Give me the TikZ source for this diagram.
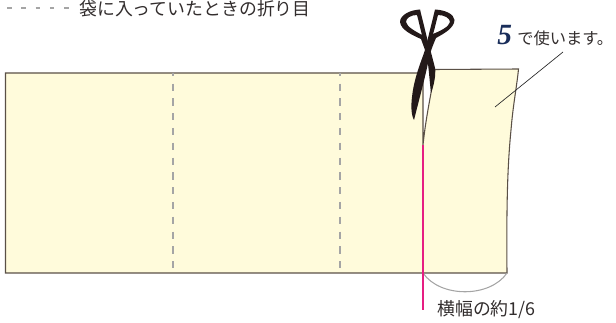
\documentclass[tikz,border=0pt]{standalone}
\usepackage{fontspec}
\setmainfont{Liberation Sans}
\newfontfamily\cjk{Noto Sans CJK JP}
\newfontfamily\numfont{Liberation Serif}
\definecolor{paper}{RGB}{255,251,219}
\definecolor{edge}{RGB}{90,80,70}
\definecolor{foldc}{RGB}{165,165,165}
\definecolor{cutc}{RGB}{230,30,130}
\definecolor{txt}{RGB}{50,45,45}
\definecolor{navy}{RGB}{25,45,90}
\definecolor{bladec}{RGB}{35,25,25}
\tikzset{
 sheet/.style={fill=paper,draw=edge,line width=0.8pt},
 foldline/.style={draw=foldc,line width=0.8pt,dash pattern=on 5.5pt off 5.6pt,dash phase=3.2pt},
 keyline/.style={draw=foldc,line width=0.8pt,dash pattern=on 3.5pt off 7.2pt},
 lbl/.style={inner sep=0pt,text=txt,anchor=west,font=\cjk\fontsize{13.4pt}{15pt}\selectfont},
 blade/.style={fill=bladec,draw=none},
}
\begin{document}
\begin{tikzpicture}[x=0.75pt,y=-0.75pt]
\useasboundingbox (0,0) rectangle (616,323);
% sheet
\draw[sheet] (423,145) -- (423,73) -- (5.5,73) -- (5.5,273) -- (507,273)
  .. controls (506.5,215) and (507,170) .. (511,130)
  .. controls (513,105) and (517,85) .. (518.5,69) -- (435,69.5)
  .. controls (433,85) and (426,115) .. (423,145);
% folds
\coordinate (f1t) at (173,73); \coordinate (f1b) at (173,273);
\coordinate (f2t) at (340,73); \coordinate (f2b) at (340,273);
\draw[foldline] (f1t) -- (f1b);
\draw[foldline] (f2t) -- (f2b);
% cut line and arc
\coordinate (cutt) at (423,145); \coordinate (cutb) at (423,310);
\coordinate (arcr) at (507,273);
\draw[foldc,line width=0.8pt] (cutb|-arcr) .. controls (440,298) and (490,298) .. (arcr);
\draw[cutc,line width=1pt] (cutt) -- (cutb);
% scissors
\path[blade,even odd rule] (420,9.5)
  .. controls (410,10) and (400,15) .. (400,22)
  .. controls (401,30) and (412,35) .. (421,39)
  -- (425,50) -- (428,64)
  .. controls (429,72) and (430,85) .. (431,93)
  .. controls (434,85) and (436,75) .. (435,68)
  .. controls (433,60) and (431,52) .. (428,42) -- cycle
  (417,15) .. controls (411,15) and (406,18) .. (406,22)
  .. controls (407,27) and (415,31) .. (422,35)
  .. controls (420,28) and (419,22) .. (417,15) -- cycle;
\path[blade,even odd rule] (435,9.5)
  .. controls (445,10) and (454,14) .. (454.5,20)
  .. controls (454,28) and (445,33) .. (436,38)
  .. controls (433,45) and (430,52) .. (428,63)
  .. controls (425,78) and (419,100) .. (414,120)
  .. controls (411,115) and (411,105) .. (412,97)
  .. controls (414,78) and (421,62) .. (425,50)
  .. controls (428,38) and (432,22) .. (435,9.5) -- cycle
  (438,15) .. controls (444,15) and (450,18) .. (450,22)
  .. controls (449,27) and (440,31) .. (433,34)
  .. controls (435,28) and (436,22) .. (438,15) -- cycle;
% labels
\coordinate (lk) at (7,8);
\coordinate (lke) at (72,8);
\draw[keyline] (lk) -- (lke);
\node[lbl] (t1) at (79,8.5) {袋に入っていたときの折り目};
\node[inner sep=0pt,text=navy,anchor=west,font=\numfont\itshape\bfseries\fontsize{22pt}{22pt}\selectfont] (t5) at (497,35) {5};
\node[lbl,font=\cjk\fontsize{12.2pt}{14pt}\selectfont] (t2) at (517,38) {で使います。};
\coordinate (lp) at (495,107);
\coordinate (lq) at (563,52);
\draw[black!85,line width=0.5pt] (lq) -- (lp);
\node[lbl] (t3) at (437,310) {横幅の約1/6};
\end{tikzpicture}
\end{document}
